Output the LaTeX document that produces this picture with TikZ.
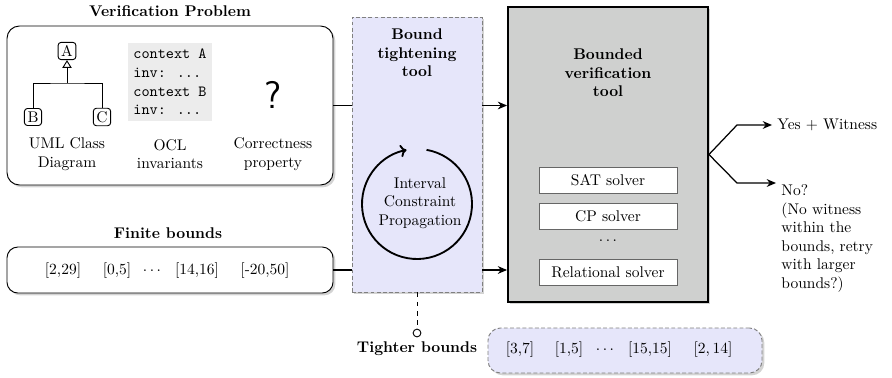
\documentclass[tikz,border=0pt]{standalone}
\usepackage{tikz}
\usetikzlibrary{positioning, arrows.meta, shapes, shadows}

\definecolor{boundfill}{RGB}{230,230,250}
\definecolor{verifgray}{RGB}{207,208,207}
\definecolor{oclgray}{RGB}{236,236,236}
\newcommand{\pxu}{0.645pt}

\begin{document}
\begin{tikzpicture}[
        x=0.645pt, y=0.645pt,
        every node/.style={align=center},
        panel/.style={draw, semithick, rounded corners=8pt, fill=white, drop shadow={shadow xshift=1.5pt, shadow yshift=-1.5pt, opacity=0.35}},
        tighten/.style={draw=gray, semithick, dash pattern=on 2.5pt off 1.5pt, fill=boundfill, drop shadow={shadow xshift=1.5pt, shadow yshift=-1.5pt, opacity=0.35}},
        verifier/.style={draw, line width=1.2pt, fill=verifgray, drop shadow={shadow xshift=1.5pt, shadow yshift=-1.5pt, opacity=0.35}},
        solver/.style={draw=black!60, semithick, fill=white, minimum width=138*\pxu, minimum height=26*\pxu},
        cls/.style={draw, semithick, rounded corners=2pt, inner sep=2pt, minimum size=11pt},
        flow/.style={thick, -{Stealth[length=6pt, width=5pt]}}
    ]
    \useasboundingbox (0,0) rectangle (892,377);

    % Verification problem
    \node[font=\bfseries] (vp-title) at (170,366) {Verification Problem};
    \node[panel, minimum width=326*\pxu, minimum height=159*\pxu] (vp) at (170,271.5) {};

    % UML class diagram
    \node[cls] (A) at (67,326) {A};
    \node[cls] (B) at (33,260) {B};
    \node[cls] (C) at (102,260) {C};
    \coordinate (split) at (67,294);
    \draw[semithick, -{Triangle[open, length=5pt, width=6pt]}] (split) -- (A.south);
    \draw[semithick] (B.north) |- (split) -| (C.north);
    \node (uml) at (67,223) {UML Class\\Diagram};

    % OCL invariants
    \node[fill=oclgray, font=\ttfamily, align=left, minimum width=84*\pxu, minimum height=78*\pxu] (ocl) at (170,295) {context A\\inv: ...\\context B\\inv: ...};
    \node (ocl-label) at (170,223) {OCL\\invariants};

    % Correctness property
    \node[font=\sffamily\Huge] (query) at (273,282) {?};
    \node (prop) at (273,223) {Correctness\\property};

    % Finite bounds
    \node[font=\bfseries] (fb-title) at (168,144) {Finite bounds};
    \node[panel, rounded corners=7pt, minimum width=326*\pxu, minimum height=46*\pxu] (fb) at (170,107) {};
    \foreach \x/\t [count=\i] in {63/{[2,29]}, 117/{[0,5]}, 152/{$\ldots$}, 197/{[14,16]}, 265/{[-20,50]}}
        \node (fb\i) at (\x,106) {\t};

    % Bound tightening tool
    \node[tighten, minimum width=130*\pxu, minimum height=275*\pxu] (bt) at (417,222.5) {};
    \node[font=\bfseries] (bt-title) at (417,324) {Bound\\tightening\\tool};
    \coordinate (loop) at (417,173);
    \draw[line width=1.2pt, -{To[length=4pt, width=8pt]}] ([shift={(80:55)}]loop) arc[start angle=80, end angle=-259, radius=55];
    \node (icp) at (420,174) {Interval\\Constraint\\Propagation};

    % Bounded verification tool
    \node[verifier, minimum width=200*\pxu, minimum height=295*\pxu] (bv) at (608,222.5) {};
    \node[font=\bfseries] (bv-title) at (608,304) {Bounded\\verification\\tool};
    \node[solver] (sat) at (608,197) {SAT solver};
    \node[solver] (cp) at (608,161) {CP solver};
    \node (more) at (608,136) {$\ldots$};
    \node[solver] (rel) at (608,105) {Relational solver};

    % Inputs
    \draw[thick] (vp.east) -- (vp.east -| bt.west);
    \draw[flow] (vp.east -| bt.east) -- (vp.east -| bv.west);
    \draw[thick] (fb.east) -- (fb.east -| bt.west);
    \draw[flow] (fb.east -| bt.east) -- (fb.east -| bv.west);

    % Results
    \node[anchor=west] (yes) at (772,252) {Yes + Witness};
    \node[anchor=north west, align=left] (no) at (776,198) {No?\\(No witness\\within the\\bounds, retry\\with larger\\bounds?)};
    \coordinate (up-bend) at (737,252);
    \coordinate (down-bend) at (737,194);
    \draw[flow] (bv.east) -- (up-bend) -- (yes.west);
    \draw[flow] (bv.east) -- (down-bend) -- (down-bend -| no.west);

    % Tighter bounds
    \node[circle, draw, semithick, fill=white, inner sep=0pt, minimum size=5pt] (tb-port) at (417,44) {};
    \draw[semithick, dashed] (bt.south) -- (tb-port);
    \node[font=\bfseries] (tb-title) at (417,28) {Tighter bounds};
    \node[tighten, rounded corners=8pt, minimum width=274*\pxu, minimum height=45*\pxu] (tb) at (625,26.5) {};
    \foreach \x/\t [count=\i] in {520/{[3,7]}, 569/{[1,5]}, 605/{$\ldots$}, 650/{[15,15]}, 713/{$[2,14]$}}
        \node (tb\i) at (\x,27) {\t};

\end{tikzpicture}
\end{document}
